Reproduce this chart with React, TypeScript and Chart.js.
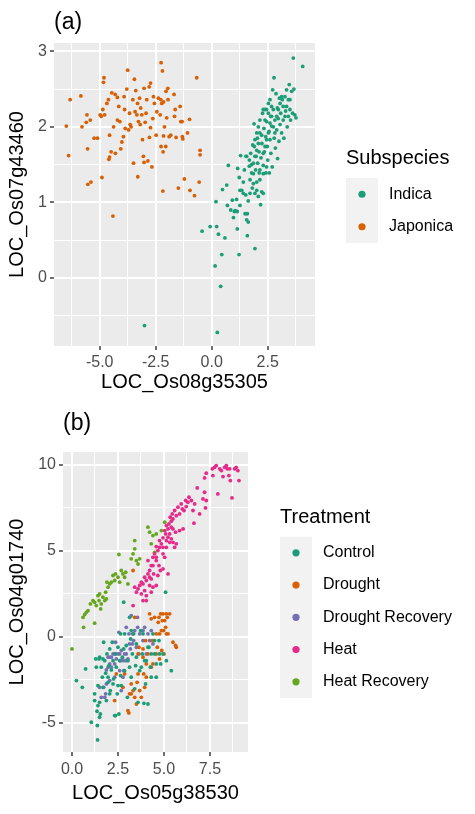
import React, { useEffect, useRef } from 'react';
import { Chart, registerables } from 'chart.js';

Chart.register(...registerables);

const FONT = "'Liberation Sans', Arial, Helvetica, sans-serif";

// ---------- Panel (a): Subspecies ----------
const subspeciesNames = ['Indica', 'Japonica'];
const subspeciesColors = ['#1B9E77', '#D95F02'];

const indicaPoints: [number, number][] = [
  [-3.0, -0.63], [0.25, -0.72], [0.4, -0.11], [0.15, 0.16], [0.45, 0.31], [-0.43, 0.62], [-0.07, 0.68],
  [0.22, 0.68], [0.3, 0.58], [0.59, 0.53], [1.14, 0.65], [1.22, 0.31], [1.59, 0.56], [1.93, 0.39],
  [0.19, 1.01], [0.48, 1.17], [0.67, 1.23], [0.7, 0.96], [0.74, 1.49], [0.85, 0.9], [0.92, 1.03],
  [0.97, 0.8], [1.01, 0.88], [1.05, 0.89], [1.11, 1.04], [1.14, 0.88], [1.16, 1.45], [1.23, 1.33],
  [1.26, 0.96], [1.29, 1.62], [1.34, 1.16], [1.41, 1.27], [1.46, 1.43], [1.49, 0.85], [1.52, 1.1],
  [1.53, 1.61], [1.56, 0.77], [1.59, 0.85], [1.63, 1.02], [1.63, 0.74], [1.68, 1.48], [1.71, 1.3],
  [1.74, 1.65], [1.78, 1.39], [1.81, 1.19], [1.86, 1.52], [1.89, 2.04], [1.9, 1.74], [1.93, 1.12],
  [1.96, 1.43], [1.98, 1.61], [2.01, 1.27], [2.04, 1.85], [2.05, 1.52], [2.08, 1.08], [2.11, 1.67],
  [2.12, 1.39], [2.15, 1.92], [2.18, 0.97], [2.2, 1.59], [2.23, 1.14], [2.24, 1.78], [2.27, 2.18],
  [2.3, 1.49], [2.3, 1.12], [2.33, 1.98], [2.35, 1.67], [2.38, 2.23], [2.41, 1.87], [2.42, 1.39],
  [2.45, 2.07], [2.48, 1.74], [2.5, 1.56], [2.53, 2.31], [2.56, 1.94], [2.57, 1.39], [2.6, 1.83],
  [2.63, 2.14], [2.64, 1.65], [2.67, 2.01], [2.7, 1.47], [2.72, 2.49], [2.75, 2.23], [2.78, 2.65],
  [2.79, 1.85], [2.82, 2.09], [2.84, 1.72], [2.87, 2.44], [2.9, 1.96], [2.93, 2.25], [2.94, 1.58],
  [2.97, 2.11], [3.0, 1.81], [3.02, 2.38], [3.05, 2.03], [3.08, 2.18], [3.12, 1.92], [3.15, 2.36],
  [3.19, 2.09], [3.22, 1.85], [3.27, 2.4], [3.3, 2.21], [3.34, 2.49], [3.37, 2.0], [3.42, 2.36],
  [3.46, 2.56], [3.49, 2.23], [3.52, 2.09], [3.57, 2.47], [3.61, 2.18], [3.64, 2.91], [3.67, 2.5],
  [3.71, 2.16], [3.76, 2.12], [4.06, 2.8],
  [1.56, 1.61], [1.68, 1.56], [1.78, 1.5], [1.86, 1.38], [1.93, 1.61], [2.01, 1.69], [2.08, 1.78],
  [2.15, 1.43], [2.3, 1.65], [2.38, 1.74], [2.45, 1.83], [2.53, 1.92], [2.6, 2.05], [2.67, 2.14],
  [2.75, 2.0], [2.82, 1.92], [2.9, 2.14], [2.97, 2.23], [3.05, 2.31], [3.12, 2.4], [3.19, 2.27],
  [3.27, 2.14], [3.34, 2.27], [3.42, 2.14], [3.49, 2.36], [2.45, 1.47], [2.3, 1.38], [2.15, 1.3],
  [2.01, 1.16], [1.86, 1.25], [1.71, 1.12], [1.41, 1.12], [1.26, 1.16], [2.23, 1.89], [2.38, 2.09],
  [2.53, 2.18], [2.67, 2.27], [2.6, 2.36], [2.45, 2.23], [2.3, 2.23], [2.15, 2.09], [2.08, 2.0],
  [2.01, 1.92], [1.93, 1.83], [1.83, 1.76],
];

const japonicaPoints: [number, number][] = [
  [-6.49, 2.01], [-6.39, 1.62], [-6.32, 2.36], [-5.84, 2.41], [-5.79, 2.0], [-5.6, 2.06], [-5.57, 2.16],
  [-5.54, 1.71], [-5.53, 1.24], [-5.39, 1.27], [-5.42, 2.09], [-5.25, 1.85], [-5.1, 1.85], [-4.98, 2.16],
  [-4.93, 2.14], [-4.9, 1.33], [-4.86, 2.23], [-4.83, 2.59], [-4.81, 2.65], [-4.78, 2.16], [-4.68, 2.31],
  [-4.61, 2.36], [-4.56, 1.89], [-4.59, 1.57], [-4.56, 1.6], [-4.49, 1.67], [-4.41, 0.82], [-4.46, 2.45],
  [-4.38, 2.0], [-4.31, 2.43], [-4.3, 1.65], [-4.21, 2.39], [-4.21, 2.09], [-4.15, 2.27], [-4.1, 2.07],
  [-4.06, 1.71], [-4.01, 1.8], [-3.94, 1.87], [-3.91, 2.4], [-3.89, 2.23], [-3.86, 1.98], [-3.79, 2.5],
  [-3.75, 2.75], [-3.71, 1.96], [-3.67, 2.18], [-3.64, 2.03], [-3.6, 2.0], [-3.52, 2.36], [-3.49, 1.52],
  [-3.45, 2.63], [-3.42, 2.2], [-3.39, 2.48], [-3.34, 2.16], [-3.31, 2.31], [-3.3, 1.34], [-3.27, 2.07],
  [-3.22, 2.38], [-3.19, 2.03], [-3.17, 2.25], [-3.12, 2.16], [-3.09, 1.83], [-3.05, 1.61], [-3.02, 1.53],
  [-3.02, 2.51], [-2.97, 2.06], [-2.93, 2.18], [-2.9, 2.36], [-2.85, 1.55], [-2.79, 2.53], [-2.78, 1.86],
  [-2.73, 2.58], [-2.73, 1.99], [-2.67, 1.47], [-2.63, 2.11], [-2.6, 2.4], [-2.56, 2.31], [-2.48, 1.89],
  [-2.45, 2.2], [-2.38, 2.38], [-2.3, 2.16], [-2.27, 2.36], [-2.26, 2.85], [-2.26, 1.74], [-2.23, 2.31],
  [-2.2, 2.74], [-2.18, 1.15], [-2.17, 1.67], [-2.15, 2.33], [-2.15, 1.88], [-2.11, 2.0], [-2.05, 1.74],
  [-2.04, 2.47], [-2.01, 2.12], [-1.96, 2.51], [-1.95, 2.36], [-1.9, 1.87], [-1.83, 1.89], [-1.68, 2.43],
  [-1.66, 2.14], [-1.63, 2.23], [-1.59, 1.86], [-1.49, 1.19], [-1.41, 2.27], [-1.38, 2.07], [-1.32, 2.07],
  [-1.31, 1.87], [-1.29, 1.84], [-1.22, 1.31], [-1.08, 1.92], [-0.99, 2.1], [-0.97, 1.16], [-0.77, 1.09],
  [-0.67, 2.65], [-0.56, 1.27], [-0.52, 1.69], [-0.52, 1.63],
];

const aXMajorTicks = [-5, -2.5, 0, 2.5];
const aYMajorTicks = [0, 1, 2, 3];

// ---------- Panel (b): Treatment ----------
const treatmentNames = ['Control', 'Drought', 'Drought Recovery', 'Heat', 'Heat Recovery'];
const treatmentColors = ['#1B9E77', '#D95F02', '#7570B3', '#E7298A', '#66A61E'];

const controlPoints: [number, number][] = [
  [0.24, -2.56], [0.56, -2.95], [0.74, -1.88], [1.05, -4.98], [1.23, -3.33], [1.29, -1.3], [1.32, -1.78],
  [1.36, -4.34], [1.38, -5.17], [1.39, -6.01], [1.41, -2.85], [1.47, -1.3], [1.5, -3.82], [1.54, -4.5],
  [1.59, -1.78], [1.65, -2.36], [1.68, -2.95], [1.72, -0.33], [1.78, -1.4], [1.83, -2.13], [1.87, -3.72],
  [1.9, -1.01], [1.96, -2.66], [2.01, -1.69], [2.05, -0.72], [2.08, -3.14], [2.14, -1.94], [2.19, -0.33],
  [2.23, -1.4], [2.26, -2.46], [2.32, -4.59], [2.37, -1.01], [2.41, -1.78], [2.46, -3.33], [2.5, -0.62],
  [2.55, -4.5], [2.59, -1.4], [2.64, 0.16], [2.68, -2.85], [2.74, -1.2], [2.81, 2.0], [2.86, -1.98],
  [2.95, -0.52], [3.01, -3.53], [3.04, -1.4], [3.13, 1.12], [3.19, -0.14], [3.22, -2.36], [3.28, -1.01],
  [3.35, 0.16], [3.41, -3.04], [3.46, -1.69], [3.5, -0.43], [3.59, -3.82], [3.68, -1.98], [3.73, 0.35],
  [3.82, -1.01], [3.86, 0.16], [3.91, -3.88], [4.0, -2.75], [4.04, -1.4], [4.13, -3.92], [4.18, -0.62],
  [4.26, -1.78], [4.31, -2.36], [4.4, 0.16], [4.49, -1.01], [4.58, -2.36], [4.73, -0.23], [4.82, -1.59],
  [4.95, -1.01], [5.09, 2.58], [5.13, -1.4], [5.4, -1.98],
  [1.5, -1.2], [1.68, -1.3], [1.96, -2.36], [2.23, -2.75], [2.05, -3.33], [1.41, -4.01], [1.5, -4.69],
  [1.23, -3.72], [2.5, -2.85], [2.64, -2.27], [2.81, -0.72], [3.13, -1.78], [3.5, -1.2], [3.77, -1.78],
  [3.95, -1.4], [4.13, -0.62], [4.31, -1.01], [4.49, -0.23], [4.58, -1.59], [4.76, -1.01], [2.37, -4.59],
  [3.22, 0.35], [2.86, 0.16],
];

const droughtPoints: [number, number][] = [
  [3.32, 3.84], [3.41, 1.12], [2.32, -3.72], [2.41, -2.17], [2.77, -2.95], [3.04, -4.3], [3.13, -3.33],
  [3.22, -2.75], [3.32, -3.14], [3.41, -3.53], [3.5, -3.92], [3.54, -2.66], [3.59, -1.01], [3.64, -0.62],
  [3.68, -3.14], [3.77, -3.53], [3.86, -0.72], [3.9, -2.17], [3.95, -2.95], [4.0, -0.23], [4.04, -1.59],
  [4.13, -1.01], [4.22, 1.32], [4.31, 1.03], [4.37, -0.23], [4.4, -1.59], [4.49, 1.12], [4.58, 0.16],
  [4.64, -0.62], [4.69, 0.83], [4.73, 1.12], [4.76, -1.3], [4.82, 1.32], [4.86, 0.35], [4.91, 0.93],
  [4.95, 1.32], [5.0, -1.01], [5.04, 0.93], [5.09, 0.54], [5.13, 1.32], [5.18, 1.12], [5.22, 0.16],
  [5.31, 1.32], [5.49, -0.33], [5.63, -0.52], [5.67, -0.62], [3.09, -4.44], [2.86, -2.17],
  [4.04, -2.36], [4.31, -1.78], [4.58, -1.01], [4.88, -0.81], [5.13, 0.16], [4.98, 0.35], [4.76, 0.16],
  [3.86, -1.2], [3.59, -2.17], [3.22, -3.33],
];

const droughtRecoveryPoints: [number, number][] = [
  [1.59, -3.53], [1.72, -2.95], [1.83, -3.33], [1.87, -1.94], [1.96, -1.2], [2.05, -1.59], [2.14, -1.2],
  [2.23, -1.01], [2.32, -1.59], [2.37, -0.33], [2.41, -1.3], [2.5, -1.01], [2.55, 0.25], [2.59, -1.98],
  [2.63, -1.4], [2.68, -0.81], [2.74, -1.3], [2.77, -1.4], [2.81, -1.98], [2.86, -1.01], [2.92, -1.4],
  [2.95, 0.54], [3.04, -1.3], [3.1, 0.16], [3.17, -0.72], [3.22, 1.22], [3.28, -0.43], [3.35, -0.23],
  [3.41, 0.35], [3.5, -0.62], [3.56, 1.12], [3.64, -1.01], [3.68, 0.16], [3.77, 0.35], [3.86, -0.23],
  [3.95, 0.54], [4.04, -1.01], [4.13, 0.16], [4.22, -0.23], [4.31, 0.35], [4.4, -0.43], [1.78, -3.53],
  [2.05, -2.56], [2.32, -2.36], [2.68, -3.14], [2.77, -2.36], [2.14, -1.78], [1.5, -2.95],
  [1.96, -1.78], [2.05, -1.2], [2.32, -1.01], [2.59, -1.01], [2.95, -1.01], [3.13, -0.43], [3.3, 0.16],
  [3.57, 0.54], [3.86, 0.35], [1.87, -2.75],
];

const heatPoints: [number, number][] = [
  [7.21, 9.22], [7.3, 9.5], [7.63, 9.75], [7.75, 9.84], [7.84, 9.94], [7.93, 8.29], [8.03, 9.75],
  [8.12, 9.65], [8.21, 9.3], [8.3, 9.84], [8.39, 9.94], [8.44, 9.75], [8.53, 9.36], [8.61, 9.07],
  [8.7, 8.06], [8.84, 9.75], [8.93, 9.84], [9.02, 9.65], [9.08, 9.07], [7.66, 9.36], [8.57, 9.75],
  [7.21, 8.39], [7.12, 8.0], [7.26, 7.48], [6.81, 8.64], [6.63, 6.59], [6.67, 7.71], [6.49, 7.91],
  [6.36, 8.1], [6.3, 7.81], [6.21, 7.56], [6.18, 7.91], [6.09, 7.33], [6.0, 7.42], [5.94, 7.71],
  [5.85, 7.13], [5.76, 7.52], [5.67, 7.03], [5.58, 7.33], [5.49, 6.84], [5.45, 7.13], [5.4, 6.71],
  [5.34, 6.94], [5.27, 6.55], [5.22, 6.26], [5.13, 6.45], [5.09, 5.97], [5.04, 6.16], [4.95, 5.74],
  [5.13, 5.58], [5.22, 5.78], [5.31, 5.48], [5.4, 5.68], [5.49, 5.48], [5.58, 5.19], [5.67, 5.39],
  [4.95, 5.19], [4.86, 5.39], [4.76, 5.58], [4.67, 5.0], [4.58, 5.23], [4.49, 4.81], [4.4, 4.61],
  [4.58, 4.42], [4.73, 4.13], [4.8, 3.84], [4.95, 3.93], [5.22, 3.64], [5.04, 4.61], [4.31, 4.13],
  [4.22, 3.84], [4.13, 3.64], [4.04, 3.26], [3.95, 3.45], [3.86, 3.06], [3.77, 3.16], [3.68, 2.97],
  [3.59, 2.77], [3.5, 2.58], [3.41, 2.87], [4.04, 2.09], [3.86, 2.09], [3.32, 1.8], [4.4, 2.87],
  [4.58, 2.97], [4.22, 2.97], [4.31, 3.35], [4.44, 3.64], [4.13, 4.42], [4.04, 2.38], [4.31, 2.58],
  [4.67, 3.55], [5.49, 6.26], [5.63, 6.07], [5.85, 6.16], [6.04, 6.26],
  [4.76, 5.19], [4.95, 4.81], [5.13, 5.19], [5.31, 5.97], [5.4, 6.36], [4.58, 4.61], [4.4, 4.13],
  [4.22, 3.45], [3.95, 2.67], [3.77, 2.48], [6.94, 7.13], [6.58, 7.33], [7.3, 7.91],
];

const heatRecoveryPoints: [number, number][] = [
  [0.0, -0.72], [0.63, 0.54], [0.6, 1.12], [0.69, 1.28], [0.78, 1.41], [0.87, 1.51], [1.0, 1.9],
  [1.14, 2.09], [1.23, 0.78], [1.23, 1.99], [1.32, 1.8], [1.41, 2.38], [1.47, 2.09], [1.5, 2.48],
  [1.56, 1.61], [1.59, 1.9], [1.68, 2.29], [1.78, 2.09], [1.83, 2.58], [1.87, 2.19], [1.9, 3.16],
  [1.96, 2.87], [2.05, 3.06], [2.14, 3.16], [2.23, 3.55], [2.32, 3.26], [2.37, 3.64], [2.5, 3.45],
  [2.55, 4.77], [2.59, 3.16], [2.68, 3.84], [2.77, 3.64], [2.86, 3.45], [2.92, 3.74], [3.04, 3.06],
  [3.22, 4.52], [3.32, 4.81], [3.41, 5.58], [3.41, 5.1], [3.5, 4.42], [3.59, 4.22], [3.68, 4.52],
  [4.13, 6.36], [4.22, 6.07], [4.31, 5.39], [4.4, 5.87], [4.49, 4.9], [4.58, 5.97], [4.86, 6.16],
  [5.04, 6.65],
];

const bXMajorTicks = [0, 2.5, 5, 7.5];
const bYMajorTicks = [-5, 0, 5, 10];

// ---------- helpers ----------
const isMajor = (majors: number[], v: number) => majors.some((m) => Math.abs(m - v) < 1e-6);

const panelBackground = {
  id: 'panelBackground',
  beforeDraw(chart: any) {
    const { ctx, chartArea: a } = chart;
    ctx.save();
    ctx.fillStyle = '#EBEBEB';
    ctx.fillRect(a.left, a.top, a.right - a.left, a.bottom - a.top);
    ctx.restore();
  },
};

const tagLegend = {
  id: 'tagLegend',
  afterDraw(chart: any, _args: any, opts: any) {
    const { ctx, chartArea } = chart;
    ctx.save();
    ctx.textAlign = 'left';
    ctx.fillStyle = '#000000';
    ctx.textBaseline = 'alphabetic';
    ctx.font = `23px ${FONT}`;
    ctx.fillText(opts.tag, chartArea.left, opts.tagBaseline);
    ctx.font = `20px ${FONT}`;
    ctx.fillText(opts.title, opts.x, opts.titleBaseline);
    const ds = chart.data.datasets;
    const keyW = 32;
    ctx.fillStyle = '#F2F2F2';
    ctx.fillRect(opts.x, opts.keyTop, keyW, opts.keyH * ds.length);
    ds.forEach((d: any, i: number) => {
      const cy = opts.keyTop + opts.keyH * (i + 0.5);
      ctx.fillStyle = d.backgroundColor;
      ctx.beginPath();
      ctx.arc(opts.x + keyW / 2, cy, 3.6, 0, Math.PI * 2);
      ctx.fill();
      ctx.fillStyle = '#000000';
      ctx.font = `16px ${FONT}`;
      ctx.textBaseline = 'middle';
      ctx.fillText(d.label, opts.x + opts.labelOffset, cy);
    });
    ctx.restore();
  },
};

type PanelSpec = {
  names: string[];
  colors: string[];
  series: [number, number][][];
  xMin: number; xMax: number; xStep: number; xMajors: number[]; xFmt: (v: number) => string;
  yMin: number; yMax: number; yStep: number; yMajors: number[]; yFmt: (v: number) => string;
  xTitle: string; yTitle: string;
  padTop: number; padRight: number; yAxisW: number; xAxisH: number;
  xTickPad: number; xTitlePad: number; yTitlePad: number;
  legend: any;
};

function buildConfig(p: PanelSpec): any {
  const grid = (majors: number[]) => ({
    color: '#FFFFFF',
    lineWidth: (c: any) => (c.tick && isMajor(majors, c.tick.value) ? 2 : 1),
    drawOnChartArea: true,
    drawTicks: true,
    tickLength: 4,
    tickWidth: 1.4,
    tickColor: (c: any) => (c.tick && isMajor(majors, c.tick.value) ? '#333333' : 'rgba(0,0,0,0)'),
  });
  return {
    type: 'scatter',
    data: {
      datasets: p.series.map((pts, i) => ({
        label: p.names[i],
        data: pts.map(([x, y]) => ({ x, y })),
        backgroundColor: p.colors[i],
        borderWidth: 0,
        pointRadius: 1.9,
        pointHoverRadius: 1.9,
      })),
    },
    options: {
      responsive: false,
      animation: false,
      events: [],
      layout: { padding: { top: p.padTop, right: p.padRight, left: 0, bottom: 0 } },
      plugins: {
        legend: { display: false },
        tooltip: { enabled: false },
        tagLegend: p.legend,
      },
      scales: {
        x: {
          type: 'linear',
          position: 'bottom',
          min: p.xMin,
          max: p.xMax,
          afterFit: (s: any) => { s.height = p.xAxisH; },
          border: { display: false },
          grid: grid(p.xMajors),
          ticks: {
            stepSize: p.xStep,
            includeBounds: false,
            autoSkip: false,
            maxRotation: 0,
            padding: p.xTickPad,
            color: '#4D4D4D',
            font: { family: FONT, size: 16 },
            callback: (v: any) => (isMajor(p.xMajors, Number(v)) ? p.xFmt(Number(v)) : ''),
          },
          title: {
            display: true,
            text: p.xTitle,
            color: '#000000',
            font: { family: FONT, size: 20 },
            padding: { top: 0, bottom: p.xTitlePad },
          },
        },
        y: {
          type: 'linear',
          position: 'left',
          min: p.yMin,
          max: p.yMax,
          afterFit: (s: any) => { s.width = p.yAxisW; },
          border: { display: false },
          grid: grid(p.yMajors),
          ticks: {
            stepSize: p.yStep,
            includeBounds: false,
            autoSkip: false,
            padding: 3,
            color: '#4D4D4D',
            font: { family: FONT, size: 16 },
            callback: (v: any) => (isMajor(p.yMajors, Number(v)) ? p.yFmt(Number(v)) : ''),
          },
          title: {
            display: true,
            text: p.yTitle,
            color: '#000000',
            font: { family: FONT, size: 20 },
            padding: { top: p.yTitlePad, bottom: 0 },
          },
        },
      },
    },
    plugins: [panelBackground, tagLegend],
  };
}

const specA: PanelSpec = {
  names: subspeciesNames,
  colors: subspeciesColors,
  series: [indicaPoints, japonicaPoints],
  xMin: -7.04, xMax: 4.61, xStep: 1.25, xMajors: aXMajorTicks, xFmt: (v) => v.toFixed(1),
  yMin: -0.9, yMax: 3.11, yStep: 0.5, yMajors: aYMajorTicks, yFmt: (v) => String(v),
  xTitle: 'LOC_Os08g35305', yTitle: 'LOC_Os07g43460',
  padTop: 43, padRight: 160, yAxisW: 54, xAxisH: 54,
  xTickPad: 3, xTitlePad: 6, yTitlePad: 5,
  legend: { tag: '(a)', tagBaseline: 29, title: 'Subspecies', x: 346, titleBaseline: 164, keyTop: 178, keyH: 32.5, labelOffset: 43 },
};

const specB: PanelSpec = {
  names: treatmentNames,
  colors: treatmentColors,
  series: [controlPoints, droughtPoints, droughtRecoveryPoints, heatPoints, heatRecoveryPoints],
  xMin: -0.49, xMax: 9.57, xStep: 1.25, xMajors: bXMajorTicks, xFmt: (v) => v.toFixed(1),
  yMin: -6.71, yMax: 10.73, yStep: 2.5, yMajors: bYMajorTicks, yFmt: (v) => String(v),
  xTitle: 'LOC_Os05g38530', yTitle: 'LOC_Os04g01740',
  padTop: 52, padRight: 227, yAxisW: 63, xAxisH: 62,
  xTickPad: 4, xTitlePad: 9, yTitlePad: 5,
  legend: { tag: '(b)', tagBaseline: 30, title: 'Treatment', x: 280, titleBaseline: 123, keyTop: 136.7, keyH: 32.26, labelOffset: 43 },
};

export default function App() {
  const refA = useRef<HTMLCanvasElement>(null);
  const refB = useRef<HTMLCanvasElement>(null);
  useEffect(() => {
    const a = new Chart(refA.current as HTMLCanvasElement, buildConfig(specA));
    const b = new Chart(refB.current as HTMLCanvasElement, buildConfig(specB));
    return () => {
      a.destroy();
      b.destroy();
    };
  }, []);
  return (
    <div style={{ position: 'absolute', left: 0, top: 0, width: 475, height: 814, background: '#FFFFFF' }}>
      <canvas ref={refA} width={475} height={400} style={{ display: 'block', width: 475, height: 400 }} />
      <canvas ref={refB} width={475} height={414} style={{ display: 'block', width: 475, height: 414 }} />
    </div>
  );
}
